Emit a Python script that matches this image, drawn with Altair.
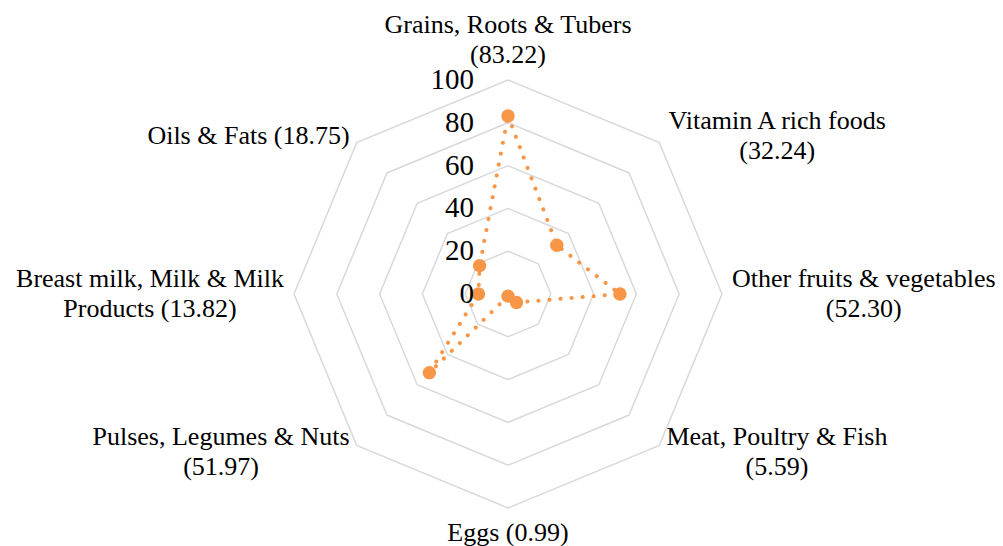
import math
import altair as alt
import pandas as pd

# ---------------- data ----------------
categories = [
    "Grains, Roots & Tubers",
    "Vitamin A rich foods",
    "Other fruits & vegetables",
    "Meat, Poultry & Fish",
    "Eggs",
    "Pulses, Legumes & Nuts",
    "Breast milk, Milk & Milk Products",
    "Oils & Fats",
]
values = [83.22, 32.24, 52.30, 5.59, 0.99, 51.97, 13.82, 18.75]
# text of the first label line where the label wraps (None = single line)
label_first_lines = [
    "Grains, Roots & Tubers",
    "Vitamin A rich foods",
    "Other fruits & vegetables",
    "Meat, Poultry & Fish",
    None,
    "Pulses, Legumes & Nuts",
    "Breast milk, Milk & Milk",
    None,
]
tick_values = [0, 20, 40, 60, 80, 100]
ring_values = [20, 40, 60, 80, 100]

# ---------------- layout / style ----------------
W, H = 987, 538          # drawing area (page margin 8px)
CX, CY = 500, 286        # centre of the radar in drawing px
R_PX = 214               # px for value 100
K = R_PX / 100.0         # px per value unit
LABEL_FS = 26
LABEL_LH = 30
TICK_FS = 29
PAD = 10
FONT = "Liberation Serif"
ORANGE = "#F79646"
GRID = "#d9d9d9"

n = len(categories)
angles = [2 * math.pi * i / n for i in range(n)]

# Times / Liberation Serif advance widths (em) for label width estimate
_w = {
    'a': .444, 'b': .5, 'c': .444, 'd': .5, 'e': .444, 'f': .333, 'g': .5, 'h': .5,
    'i': .278, 'j': .278, 'k': .5, 'l': .278, 'm': .778, 'n': .5, 'o': .5, 'p': .5,
    'q': .5, 'r': .333, 's': .389, 't': .278, 'u': .5, 'v': .5, 'w': .722, 'x': .5,
    'y': .5, 'z': .444, 'A': .722, 'B': .667, 'C': .667, 'D': .722, 'E': .611,
    'F': .556, 'G': .722, 'H': .722, 'I': .333, 'L': .611, 'M': .889, 'N': .722,
    'O': .722, 'P': .556, 'R': .667, 'S': .556, 'T': .611, 'V': .722, 'W': .944,
    ' ': .25, '(': .333, ')': .333, '.': .25, ',': .25, '&': .778,
}


def text_width(s, fs):
    return sum(_w.get(ch, .5) for ch in s) * fs


def ax(v, a):
    return v * math.sin(a)


def ay(v, a):
    return v * math.cos(a)


# rings
ring_rows = []
for r in ring_values:
    for j in range(n + 1):
        a = angles[j % n]
        ring_rows.append({"ring": r, "order": j, "x": ax(r, a), "y": ay(r, a)})
rings_df = pd.DataFrame(ring_rows)

# data polygon (closed)
line_rows = []
for j in range(n + 1):
    i = j % n
    line_rows.append({"order": j, "x": ax(values[i], angles[i]), "y": ay(values[i], angles[i]),
                      "category": categories[i], "value": values[i]})
line_df = pd.DataFrame(line_rows)
points_df = line_df.iloc[:n]

# category labels
label_rows = []
for i, (cat, v, first) in enumerate(zip(categories, values, label_first_lines)):
    full = f"{cat} ({v:.2f})"
    if first:
        lines = [first, full[len(first):].strip()]
    else:
        lines = [full]
    a = angles[i]
    s, c = math.sin(a), math.cos(a)
    w = max(text_width(l, LABEL_FS) for l in lines)
    h = len(lines) * LABEL_LH
    px = (R_PX + PAD) * s
    py = (R_PX + PAD) * c
    if abs(s) > 0.1:
        px += math.copysign(w / 2, s)
    else:
        py += math.copysign(h / 2, c)
    # first line anchor so that the whole block is centred on (px, py)
    py += (len(lines) - 1) * LABEL_LH / 2
    label_rows.append({"label": lines, "x": px / K, "y": py / K})
labels_df = pd.DataFrame(label_rows)

ticks_df = pd.DataFrame({"v": tick_values, "x": [0] * len(tick_values), "label": [str(t) for t in tick_values]})

xs = alt.Scale(domain=[-CX / K, (W - CX) / K], range=[0, W], nice=False, zero=False)
ys = alt.Scale(domain=[-(H - CY) / K, CY / K], range=[H, 0], nice=False, zero=False)

grid = alt.Chart(rings_df).mark_line(color=GRID, strokeWidth=1.5).encode(
    x=alt.X("x:Q", scale=xs, axis=None),
    y=alt.Y("y:Q", scale=ys, axis=None),
    detail="ring:N",
    order="order:Q",
)

line = alt.Chart(line_df).mark_line(
    color=ORANGE, strokeWidth=4, strokeDash=[0.1, 11], strokeCap="round"
).encode(
    x=alt.X("x:Q", scale=xs, axis=None),
    y=alt.Y("y:Q", scale=ys, axis=None),
    order="order:Q",
)

points = alt.Chart(points_df).mark_circle(color=ORANGE, size=180, opacity=1).encode(
    x=alt.X("x:Q", scale=xs, axis=None),
    y=alt.Y("y:Q", scale=ys, axis=None),
)

tick_text = alt.Chart(ticks_df).mark_text(
    align="right", baseline="middle", dx=-34, font=FONT, fontSize=TICK_FS, color="black"
).encode(
    x=alt.X("x:Q", scale=xs, axis=None),
    y=alt.Y("v:Q", scale=ys, axis=None),
    text="label:N",
)

cat_text = alt.Chart(labels_df).mark_text(
    align="center", baseline="middle", font=FONT, fontSize=LABEL_FS, lineHeight=LABEL_LH, color="black"
).encode(
    x=alt.X("x:Q", scale=xs, axis=None),
    y=alt.Y("y:Q", scale=ys, axis=None),
    text="label",
)

chart = alt.layer(grid, line, points, tick_text, cat_text).properties(
    width=W, height=H, padding=0, autosize=alt.AutoSizeParams(type="none")
).configure_view(stroke=None)

chart.save("out.html", embed_options={"renderer": "svg", "actions": False})
